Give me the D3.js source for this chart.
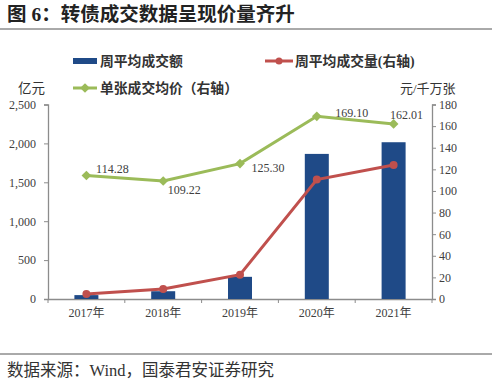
<!DOCTYPE html>
<html>
<head>
<meta charset="utf-8">
<script src="https://cdn.jsdelivr.net/npm/d3@7"></script>
<style>
  body { margin: 0; background: #fff; }
  svg { display: block; font-family: "Liberation Serif", "Noto Sans CJK SC", serif; }
</style>
</head>
<body>
<svg id="chart" width="500" height="387"></svg>
<script>
// Data
const years = ["2017年", "2018年", "2019年", "2020年", "2021年"];
const weeklyAmount = [50, 100, 285, 1865, 2015];        // 周平均成交额 (亿元, left axis)
const weeklyVolume = [4.6, 9.2, 22.5, 110.5, 124];       // 周平均成交量 (right axis)
const avgPrice = [114.28, 109.22, 125.30, 169.10, 162.01]; // 单张成交均价 (right axis)
const leftTicks = [0, 500, 1000, 1500, 2000, 2500];
const rightTicks = [0, 20, 40, 60, 80, 100, 120, 140, 160, 180];

const colors = { bar: "#1f4a87", red: "#c0504d", green: "#9bbb59", axis: "#8c8c8c", text: "#404040" };
const cjk = '"Liberation Serif", "Noto Sans CJK SC", sans-serif';

const svg = d3.select("#chart");
const plot = { left: 48, right: 432, top: 104.5, bottom: 299 };

const x = d3.scaleBand().domain(years).range([plot.left, plot.right]);
const yL = d3.scaleLinear().domain([0, 2500]).range([plot.bottom, plot.top]);
const yR = d3.scaleLinear().domain([0, 180]).range([plot.bottom, plot.top]);
const cx = d => x(d) + x.bandwidth() / 2;

// Title
svg.append("text").attr("x", 7).attr("y", 21)
    .attr("font-family", cjk).attr("font-weight", "bold").attr("font-size", 19.5)
    .attr("fill", "#222").text("图 6：转债成交数据呈现价量齐升");
svg.append("line").attr("x1", 0).attr("x2", 492).attr("y1", 29).attr("y2", 29)
    .attr("stroke", "#555").attr("stroke-width", 1);

// Bottom rule + source
svg.append("line").attr("x1", 0).attr("x2", 492).attr("y1", 354).attr("y2", 354)
    .attr("stroke", "#555").attr("stroke-width", 1);
svg.append("text").attr("x", 7).attr("y", 376)
    .attr("font-family", cjk).attr("font-size", 16.5).attr("fill", "#333")
    .text("数据来源：Wind，国泰君安证券研究");

// Axes
const gL = svg.append("g").attr("transform", `translate(${plot.left},0)`)
    .call(d3.axisLeft(yL).tickValues(leftTicks).tickSize(4).tickFormat(d3.format(",")));
const gR = svg.append("g").attr("transform", `translate(${plot.right},0)`)
    .call(d3.axisRight(yR).tickValues(rightTicks).tickSize(4));
const gX = svg.append("g").attr("transform", `translate(0,${plot.bottom})`)
    .call(d3.axisBottom(x).tickSize(0));
// band boundary ticks on x axis
gX.selectAll(".bt").data(d3.range(years.length + 1)).enter().append("line")
    .attr("x1", i => plot.left + i * x.bandwidth()).attr("x2", i => plot.left + i * x.bandwidth())
    .attr("y1", 0).attr("y2", 4).attr("stroke", colors.axis);

[gL, gR, gX].forEach(g => {
    g.select(".domain").attr("stroke", colors.axis).attr("stroke-width", 1.3);
    g.selectAll(".tick line").attr("stroke", colors.axis);
    g.selectAll("text").attr("font-family", '"Liberation Serif", serif').attr("font-size", 12).attr("fill", colors.text);
});
gL.selectAll(".tick text").attr("x", -12);
gR.selectAll(".tick text").attr("x", 7);
gX.selectAll(".tick text").attr("y", 9).attr("font-family", '"Liberation Serif", "Noto Sans CJK SC", serif');

// Bars
const barW = 24;
svg.append("g").selectAll("rect").data(years).enter().append("rect")
    .attr("x", (d, i) => cx(d) - barW / 2).attr("width", barW)
    .attr("y", (d, i) => yL(weeklyAmount[i]))
    .attr("height", (d, i) => plot.bottom - yL(weeklyAmount[i]))
    .attr("fill", colors.bar);

// Lines
const lineR = d3.line().x((d, i) => cx(years[i])).y(d => yR(d));
svg.append("path").datum(avgPrice).attr("d", lineR)
    .attr("fill", "none").attr("stroke", colors.green).attr("stroke-width", 3);
svg.append("path").datum(weeklyVolume).attr("d", lineR)
    .attr("fill", "none").attr("stroke", colors.red).attr("stroke-width", 3);

const diamond = d3.symbol().type(d3.symbolDiamond2).size(60);
svg.append("g").selectAll("path").data(avgPrice).enter().append("path")
    .attr("d", diamond)
    .attr("transform", (d, i) => `translate(${cx(years[i])},${yR(d)})`)
    .attr("fill", colors.green);
svg.append("g").selectAll("circle").data(weeklyVolume).enter().append("circle")
    .attr("cx", (d, i) => cx(years[i])).attr("cy", d => yR(d)).attr("r", 4)
    .attr("fill", colors.red);

// Price labels
const labelOffset = [[26, -7], [21, 9], [28, 4], [35, -3], [13, -9]];
svg.append("g").selectAll("text").data(avgPrice).enter().append("text")
    .attr("x", (d, i) => cx(years[i]) + labelOffset[i][0])
    .attr("y", (d, i) => yR(d) + labelOffset[i][1])
    .attr("dy", "0.35em").attr("text-anchor", "middle")
    .attr("font-size", 12).attr("fill", colors.text)
    .text(d => d.toFixed(2));

// Legend
const leg = svg.append("g").attr("font-family", cjk).attr("font-size", 13.8).attr("font-weight", "bold").attr("fill", "#333");
leg.append("rect").attr("x", 73).attr("y", 58).attr("width", 24).attr("height", 6).attr("fill", colors.bar);
leg.append("text").attr("x", 100).attr("y", 61).attr("dy", "0.35em").text("周平均成交额");

leg.append("line").attr("x1", 265).attr("x2", 293).attr("y1", 61).attr("y2", 61)
    .attr("stroke", colors.red).attr("stroke-width", 3);
leg.append("circle").attr("cx", 279).attr("cy", 61).attr("r", 3.5).attr("fill", colors.red);
leg.append("text").attr("x", 295).attr("y", 61).attr("dy", "0.35em").text("周平均成交量(右轴)");

leg.append("line").attr("x1", 73).attr("x2", 97).attr("y1", 88).attr("y2", 88)
    .attr("stroke", colors.green).attr("stroke-width", 3);
leg.append("path").attr("d", diamond).attr("transform", "translate(85,88)").attr("fill", colors.green);
leg.append("text").attr("x", 100).attr("y", 88).attr("dy", "0.35em").text("单张成交均价（右轴）");

// Axis units
svg.append("text").attr("x", 18).attr("y", 88).attr("dy", "0.35em")
    .attr("font-family", cjk).attr("font-size", 13.5).attr("fill", "#333").text("亿元");
svg.append("text").attr("x", 400).attr("y", 88).attr("dy", "0.35em")
    .attr("font-family", cjk).attr("font-size", 13).attr("fill", "#333").text("元/千万张");
</script>
</body>
</html>
